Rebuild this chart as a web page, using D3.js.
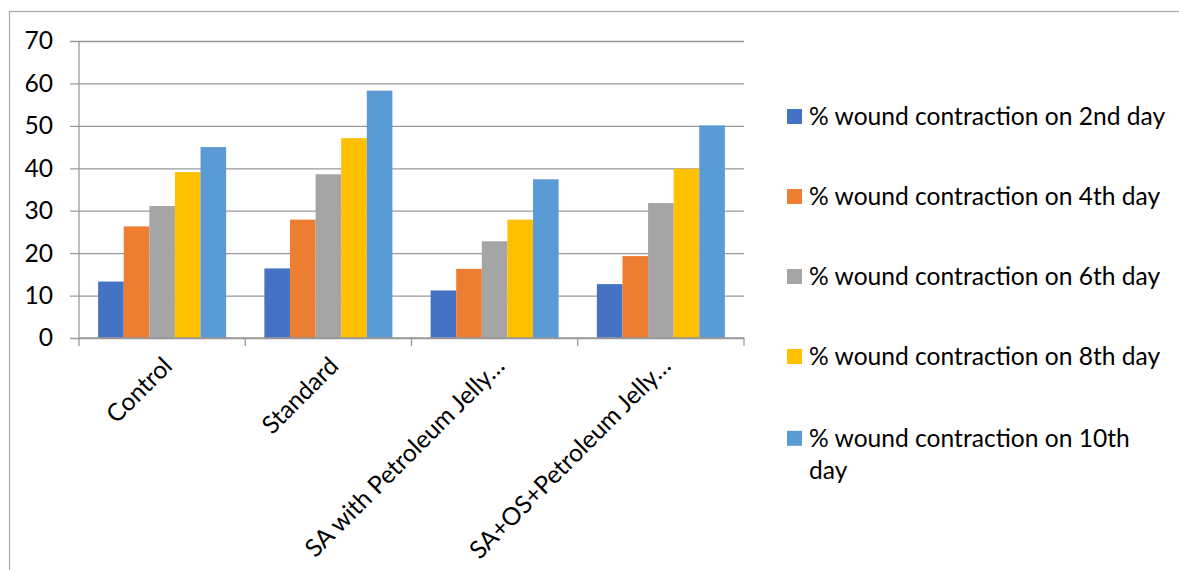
<!DOCTYPE html>
<html><head><meta charset="utf-8">
<script src="https://cdn.jsdelivr.net/npm/d3@7"></script>
<style>body{margin:0;background:#fff}svg{display:block}text{font-family:Lato,"Open Sans",sans-serif;fill:#000}</style>
</head><body><svg id="c" width="1179" height="570"></svg>
<script>
const categories = ["Control","Standard","SA with Petroleum Jelly…","SA+OS+Petroleum Jelly…"];
const seriesNames = ["% wound contraction on 2nd day","% wound contraction on 4th day","% wound contraction on 6th day","% wound contraction on 8th day","% wound contraction on 10th day"];
const day2  = [13.3,16.4,11.2,12.7];
const day4  = [26.3,27.9,16.3,19.3];
const day6  = [31.1,38.6,22.8,31.8];
const day8  = [39.1,47.1,27.9,39.9];
const day10 = [45.0,58.3,37.4,50.1];
const yTicks = [0,10,20,30,40,50,60,70];
const colors = ["#4472C4","#ED7D31","#A5A5A5","#FFC000","#5B9BD5"];

const series = [day2,day4,day6,day8,day10];
const svg = d3.select("#c");
const fs = 24.6;
const L=79,R=744,T=41,B=338;

// outer frame
svg.append("rect").attr("x",9.5).attr("y",11.5).attr("width",1200).attr("height",600)
  .attr("fill","none").attr("stroke","#aaa").attr("stroke-width",1.2);

const y = d3.scaleLinear().domain([0,70]).range([B,T]);
const x0 = d3.scaleBand().domain(categories).range([L,R]).paddingInner(0.23).paddingOuter(0.115);
const x1 = d3.scaleBand().domain(d3.range(series.length)).range([0,x0.bandwidth()]);
const xb = d3.scaleBand().domain(categories).range([L,R]);

// gridlines + y labels
const gy = svg.append("g").attr("transform",`translate(${L},0)`)
  .call(d3.axisLeft(y).tickValues(yTicks).tickSize(-(R-L)).tickSizeOuter(0).tickPadding(26).tickFormat(d3.format("d")));
gy.select(".domain").remove();
gy.selectAll(".tick line").attr("stroke","#999").attr("stroke-width",1.3).attr("x2",R-L).attr("x1",-9);
gy.selectAll(".tick text").attr("font-size",fs).attr("font-family","Lato").attr("fill","#000");

// y axis line
svg.append("line").attr("x1",L).attr("x2",L).attr("y1",T).attr("y2",B).attr("stroke","#999").attr("stroke-width",1.3);

// bars
categories.forEach((c,ci)=>{
  series.forEach((s,si)=>{
    svg.append("rect").attr("x",x0(c)+x1(si)).attr("width",x1.bandwidth())
      .attr("y",y(s[ci])).attr("height",y(0)-y(s[ci])).attr("fill",colors[si]);
  });
});

// x axis
const gx = svg.append("g").attr("transform",`translate(0,${B})`);
gx.append("line").attr("x1",L).attr("x2",R).attr("stroke","#999").attr("stroke-width",1.3);
const bounds = categories.map(c=>xb(c)).concat([R]);
gx.selectAll("line.tk").data(bounds).join("line").attr("class","tk")
  .attr("x1",d=>d).attr("x2",d=>d).attr("y1",0).attr("y2",8).attr("stroke","#999").attr("stroke-width",1.3);

// x labels
svg.selectAll("text.xl").data(categories).join("text").attr("class","xl")
  .attr("text-anchor","end").attr("font-size",fs).attr("dy","0.72em")
  .attr("transform",d=>`translate(${xb(d)+xb.bandwidth()/2-1},355) rotate(-45)`)
  .text(d=>d);

// legend
const ly = [116.5,196.5,276.5,356.5,438.3];
const lg = svg.append("g");
seriesNames.forEach((n,i)=>{
  lg.append("rect").attr("x",787).attr("y",ly[i]-7.5).attr("width",15).attr("height",15).attr("fill",colors[i]);
  const t = lg.append("text").attr("x",809).attr("y",ly[i]).attr("dy","0.35em").attr("font-size",fs);
  if(i===4){
    t.append("tspan").attr("x",809).text("% wound contraction on 10th");
    t.append("tspan").attr("x",809).attr("dy","1.3em").text("day");
  } else t.text(n);
});
</script></body></html>
